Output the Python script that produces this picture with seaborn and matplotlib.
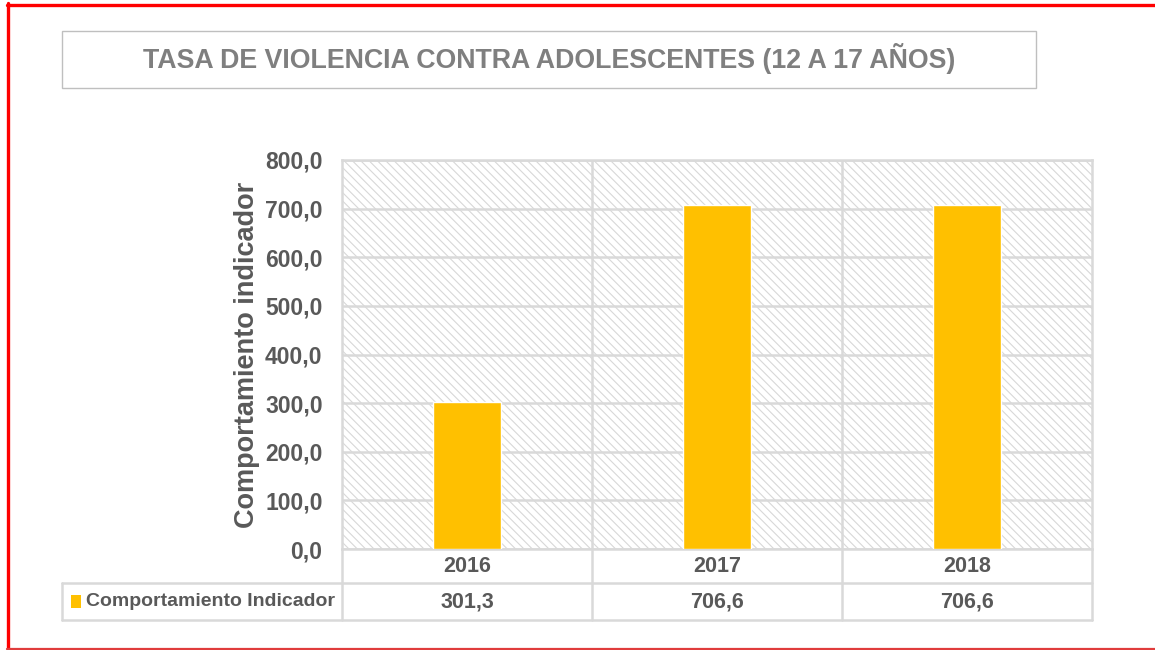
import matplotlib
matplotlib.use("Agg")
import matplotlib.pyplot as plt
import matplotlib.transforms as mtransforms
from matplotlib.patches import Rectangle
from matplotlib.lines import Line2D
import seaborn as sns
import pandas as pd

# ---- data -------------------------------------------------------------
years = ["2016", "2017", "2018"]
values = [301.3, 706.6, 706.6]
y_ticks = [0, 100, 200, 300, 400, 500, 600, 700, 800]
series_name = "Comportamiento Indicador"
title_text = "TASA DE VIOLENCIA CONTRA ADOLESCENTES (12 A 17 AÑOS)"
y_label = "Comportamiento indicador"

# ---- style ------------------------------------------------------------
sns.set_theme(style="white")
plt.rcParams["font.family"] = ["Liberation Sans", "DejaVu Sans"]
plt.rcParams["hatch.linewidth"] = 0.8

BAR = "#FFC000"
GRID = "#d9d9d9"
TXT = "#595959"

W, H = 1155, 650
fig = plt.figure(figsize=(W / 100, H / 100), dpi=100)
fig.patch.set_facecolor("white")


def fx(px):
    return px / W


def fy(py):
    return 1 - py / H


# ---- plot area --------------------------------------------------------
ax = fig.add_axes([fx(342), fy(549), (1092 - 342) / W, (549 - 160) / H])
ax.set_facecolor("white")
ax.add_patch(Rectangle((0, 0), 1, 1, transform=ax.transAxes, facecolor="white",
                       edgecolor="#d8d8d8", hatch="\\\\\\\\", lw=0, zorder=0))

df = pd.DataFrame({"year": years, "value": values})
sns.barplot(data=df, x="year", y="value", color=BAR, saturation=1,
            width=0.27, ax=ax, zorder=3)

ax.set_xlim(-0.5, len(years) - 0.5)
ax.set_ylim(y_ticks[0], y_ticks[-1])
ax.set_yticks(y_ticks)
ax.set_yticklabels([f"{v:.1f}".replace(".", ",") for v in y_ticks],
                   fontweight="bold", fontsize=16.5, color=TXT)
ax.set_axisbelow(True)
ax.yaxis.grid(True, color=GRID, lw=1.8)
ax.xaxis.grid(False)
for xb in [i + 0.5 for i in range(len(years) - 1)]:
    ax.axvline(xb, color=GRID, lw=1.8, zorder=0.6)
ax.tick_params(axis="x", length=0, labelbottom=False)
ax.tick_params(axis="y", length=0, pad=14)
for s in ax.spines.values():
    s.set_color(GRID)
    s.set_linewidth(1.8)
ax.set_xlabel("")
ax.set_ylabel(y_label, fontsize=19.5, fontweight="bold", color=TXT)
ax.yaxis.set_label_coords((260 - 342) / 750, 0.5)

# ---- data table under the axis ----------------------------------------
blend = mtransforms.blended_transform_factory(ax.transData, fig.transFigure)
for xb in [i - 0.5 for i in range(len(years) + 1)]:
    fig.add_artist(Line2D([xb, xb], [fy(549), fy(620)], transform=blend,
                          color=GRID, lw=1.8))
for py in (583, 620):
    fig.add_artist(Line2D([fx(62), fx(1092)], [fy(py), fy(py)],
                          transform=fig.transFigure, color=GRID, lw=1.8))
fig.add_artist(Line2D([fx(62), fx(62)], [fy(583), fy(620)],
                      transform=fig.transFigure, color=GRID, lw=1.8))

for i, (yr, v) in enumerate(zip(years, values)):
    fig.text(i, fy(566), yr, transform=blend, ha="center", va="center",
             fontweight="bold", fontsize=15.5, color=TXT)
    fig.text(i, fy(602), f"{v:.1f}".replace(".", ","), transform=blend,
             ha="center", va="center", fontweight="bold",
             fontsize=15.5, color=TXT)

fig.add_artist(Rectangle((fx(71), fy(608)), 10 / W, 13 / H,
                         transform=fig.transFigure, facecolor=BAR, lw=0))
fig.text(fx(86), fy(602), series_name, ha="left", va="center",
         fontweight="bold", fontsize=14, color=TXT)

# ---- title box --------------------------------------------------------
fig.add_artist(Rectangle((fx(62), fy(88)), (1036 - 62) / W, (88 - 31) / H,
                         transform=fig.transFigure, fill=False,
                         edgecolor="#bfbfbf", lw=1))
fig.text(fx(549), fy(59), title_text, ha="center", va="center",
         fontsize=19.3, fontweight="bold", color="#7f7f7f")

# ---- red frame --------------------------------------------------------
fig.add_artist(Line2D([fx(7), 1], [fy(4.5), fy(4.5)], transform=fig.transFigure,
                      color="#ff0000", lw=2.4))
fig.add_artist(Line2D([fx(8), fx(8)], [fy(3), 0], transform=fig.transFigure,
                      color="#ff0000", lw=2.4))
fig.add_artist(Line2D([fx(7), 1], [fy(648.5), fy(648.5)], transform=fig.transFigure,
                      color="#e03c3c", lw=1.6))

fig.savefig("out.png", dpi=100)
